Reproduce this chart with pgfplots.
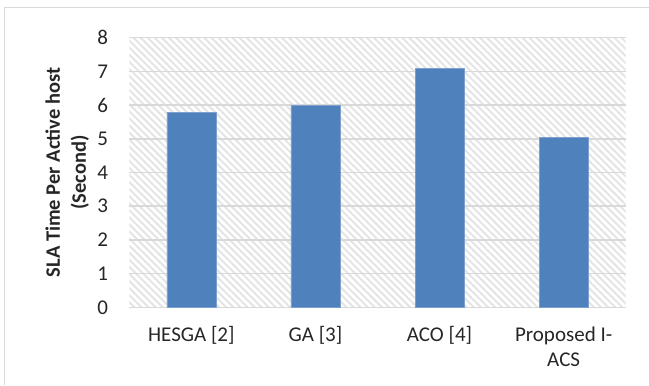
\documentclass[border=0pt]{standalone}
\usepackage{fontspec}
\setmainfont{Carlito}
\usepackage{pgfplots}
\pgfplotsset{compat=1.18}
\usetikzlibrary{patterns.meta}
\definecolor{barblue}{HTML}{4F81BD}
\definecolor{gridgray}{HTML}{D9D9D9}
\definecolor{hatchgray}{HTML}{E4E4E4}
\definecolor{labeltext}{HTML}{262626}

\begin{document}
\begin{tikzpicture}[x=1bp,y=1bp]
\path[use as bounding box] (0,0) rectangle (649,385);
% chart frame
\draw[gridgray, line width=1bp] (4.5,0) -- (4.5,377) -- (649,377);
\begin{axis}[
  at={(129.3bp,77.7bp)}, anchor=south west,
  width=496.4bp, height=269.6bp, scale only axis,
  xmin=-0.5, xmax=3.5, ymin=0, ymax=8,
  ytick={0,1,...,8}, xtick={0,1,2,3},
  xticklabels={HESGA [2], GA [3], ACO [4], Proposed I-\\ACS},
  ymajorgrids, grid style={gridgray, line width=1.5bp},
  axis lines*=left,
  y axis line style={draw=none},
  x axis line style={gridgray, line width=1.5bp, -},
  major tick length=0pt,
  /pgf/number format/assume math mode=true,
  tick label style={font=\fontsize{21bp}{25bp}\selectfont, text=labeltext, inner sep=0pt},
  yticklabel style={anchor=east, xshift=-21bp},
  xticklabel style={anchor=north, align=center, yshift=-19bp},
  ylabel={SLA Time Per Active host\\(Second)},
  ylabel style={font=\fontsize{20.5bp}{26bp}\selectfont\bfseries, text=labeltext,
    align=center, anchor=center, at={(axis description cs:0,0.5)}, yshift=62bp},
  axis background/.style={pattern={Lines[angle=-45,distance=5bp,line width=2bp]}, pattern color=hatchgray},
  ybar, bar width=49bp,
]
\addplot[fill=barblue, draw=barblue!75!white, line width=0.6bp]
  coordinates {(0,5.79) (1,6.00) (2,7.08) (3,5.04)};
\end{axis}
\end{tikzpicture}
\end{document}
